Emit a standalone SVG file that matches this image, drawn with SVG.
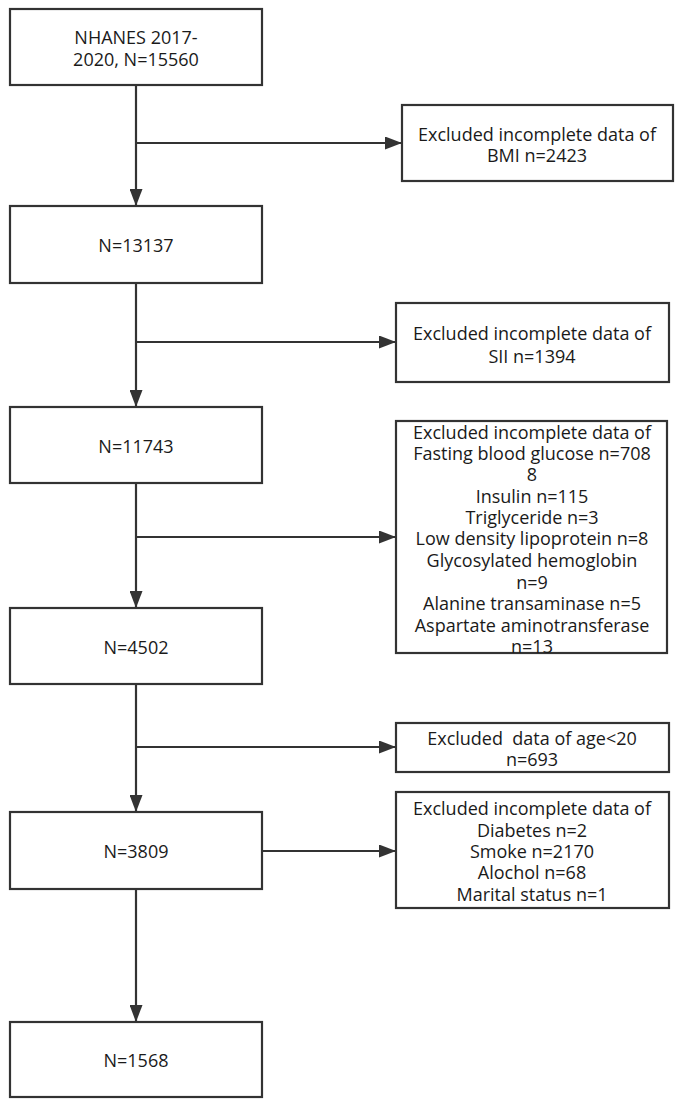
<svg xmlns="http://www.w3.org/2000/svg" width="676" height="1105" viewBox="0 0 676 1105">
<style>
  .box{fill:#ffffff;stroke:#333333;stroke-width:2.2}
  .t{font-family:"Open Sans","Noto Sans","Liberation Sans",sans-serif;font-size:18px;fill:#1a1a1a;text-anchor:middle;dominant-baseline:central;white-space:pre}
  .c{fill:none;stroke:#333333;stroke-width:2.2}
</style>
<defs>
  <marker id="arr" markerUnits="userSpaceOnUse" markerWidth="17" markerHeight="13" viewBox="0 0 17 13" refX="17" refY="6.5" orient="auto">
    <path d="M0,0 L17,6.5 L0,13 z" fill="#333333"/>
  </marker>
</defs>
<rect width="676" height="1105" fill="#ffffff"/>

<g id="connectors">
  <line class="c" x1="136" y1="85" x2="136" y2="206" marker-end="url(#arr)"/>
  <line class="c" x1="136" y1="143" x2="402" y2="143" marker-end="url(#arr)"/>
  <line class="c" x1="136" y1="283" x2="136" y2="407" marker-end="url(#arr)"/>
  <line class="c" x1="136" y1="342" x2="396" y2="342" marker-end="url(#arr)"/>
  <line class="c" x1="136" y1="483" x2="136" y2="608" marker-end="url(#arr)"/>
  <line class="c" x1="136" y1="537" x2="396" y2="537" marker-end="url(#arr)"/>
  <line class="c" x1="136" y1="684" x2="136" y2="812" marker-end="url(#arr)"/>
  <line class="c" x1="136" y1="747" x2="396" y2="747" marker-end="url(#arr)"/>
  <line class="c" x1="136" y1="889" x2="136" y2="1022" marker-end="url(#arr)"/>
  <line class="c" x1="262" y1="851" x2="396" y2="851" marker-end="url(#arr)"/>
</g>

<g id="n1">
  <rect class="box" x="10" y="9" width="252" height="76"/>
  <text class="t" x="136" y="37">NHANES 2017-</text>
  <text class="t" x="136" y="59">2020, N=15560</text>
</g>
<g id="ex1">
  <rect class="box" x="402" y="105" width="271" height="76"/>
  <text class="t" x="537" y="134">Excluded incomplete data of</text>
  <text class="t" x="537" y="155">BMI n=2423</text>
</g>
<g id="n2">
  <rect class="box" x="10" y="206" width="252" height="77"/>
  <text class="t" x="136" y="245">N=13137</text>
</g>
<g id="ex2">
  <rect class="box" x="396" y="303" width="273" height="79"/>
  <text class="t" x="532" y="333">Excluded incomplete data of</text>
  <text class="t" x="532" y="356">SII n=1394</text>
</g>
<g id="n3">
  <rect class="box" x="10" y="407" width="252" height="76"/>
  <text class="t" x="136" y="446">N=11743</text>
</g>
<g id="ex3">
  <rect class="box" x="396" y="421" width="271" height="232"/>
  <text class="t" x="532" y="432">Excluded incomplete data of</text>
  <text class="t" x="532" y="453">Fasting blood glucose n=708</text>
  <text class="t" x="532" y="474">8</text>
  <text class="t" x="532" y="496">Insulin n=115</text>
  <text class="t" x="532" y="517">Triglyceride n=3</text>
  <text class="t" x="532" y="538">Low density lipoprotein n=8</text>
  <text class="t" x="532" y="560">Glycosylated hemoglobin</text>
  <text class="t" x="532" y="582">n=9</text>
  <text class="t" x="532" y="603">Alanine transaminase n=5</text>
  <text class="t" x="532" y="625">Aspartate aminotransferase</text>
  <text class="t" x="532" y="646">n=13</text>
</g>
<g id="n4">
  <rect class="box" x="10" y="608" width="252" height="76"/>
  <text class="t" x="136" y="647">N=4502</text>
</g>
<g id="ex4">
  <rect class="box" x="396" y="723" width="273" height="49"/>
  <text class="t" x="532" y="738">Excluded  data of age&lt;20</text>
  <text class="t" x="532" y="759">n=693</text>
</g>
<g id="n5">
  <rect class="box" x="10" y="812" width="252" height="77"/>
  <text class="t" x="136" y="851">N=3809</text>
</g>
<g id="ex5">
  <rect class="box" x="396" y="792" width="273" height="116"/>
  <text class="t" x="532" y="808">Excluded incomplete data of</text>
  <text class="t" x="532" y="830">Diabetes n=2</text>
  <text class="t" x="532" y="851">Smoke n=2170</text>
  <text class="t" x="532" y="872">Alochol n=68</text>
  <text class="t" x="532" y="894">Marital status n=1</text>
</g>
<g id="n6">
  <rect class="box" x="10" y="1022" width="252" height="75"/>
  <text class="t" x="136" y="1060">N=1568</text>
</g>
</svg>
